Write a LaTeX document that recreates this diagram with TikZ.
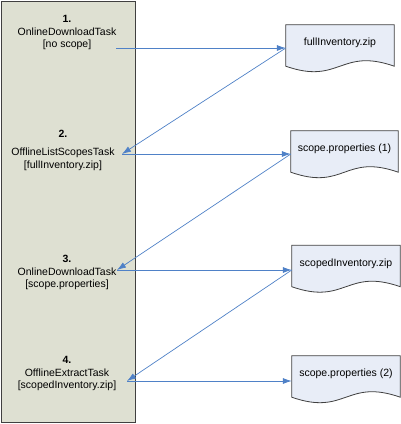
\documentclass[tikz,border=0pt]{standalone}
\usepackage{fontspec}
\setmainfont{Liberation Sans}
\usetikzlibrary{arrows.meta,backgrounds}

\definecolor{lanegray}{RGB}{222,224,210}
\definecolor{docblue}{RGB}{232,237,247}
\definecolor{flowblue}{RGB}{79,129,199}
\definecolor{edgegray}{RGB}{64,64,64}

\begin{document}
\begin{tikzpicture}[x=1pt,y=-1pt,
            lane/.style={
              draw=edgegray,
              fill=lanegray,
              line width=0.9pt,
              minimum width=134pt,
              minimum height=421pt,
              inner sep=0pt
            },
            task/.style={
              align=center,
              inner sep=0pt,
              font=\fontsize{10.5}{12.5}\selectfont
            },
            doc/.style={
              inner sep=0pt,
              minimum height=41pt,
              text depth=7pt,
              font=\fontsize{10.5}{12.5}\selectfont
            },
            docline/.style={
              draw=edgegray,
              fill=docblue,
              line width=0.8pt
            },
            flow/.style={
              draw=flowblue,
              line width=0.7pt,
              -{Latex[length=9pt,width=6pt]}
            }
            ]
            \useasboundingbox (0,0) rectangle (401,424);
            \node[lane] (lane) at (68,211.5) {};

            \node[task] at (67,32.5)
              (t1) {\textbf{1.}\\OnlineDownloadTask\\{[}no scope{]}};
            \node[task] at (63,150)
              (t2) {\textbf{2.}\\[6pt]OfflineListScopesTask\\{[}fullInventory.zip{]}};
            \node[task] at (67,272.5)
              (t3) {\textbf{3.}\\OnlineDownloadTask\\{[}scope.properties{]}};
            \node[task] at (67,373.5)
              (t4) {\textbf{4.}\\OfflineExtractTask\\{[}scopedInventory.zip{]}};

            \node[doc,minimum width=108pt] at (340,45.5)
              (full) {fullInventory.zip};
            \node[doc,minimum width=107pt] at (344.5,151.5)
              (scp1) {scope.properties (1)};
            \node[doc,minimum width=108pt] at (346,266)
              (scpinv) {scopedInventory.zip};
            \node[doc,minimum width=108pt] at (346,376.5)
              (scp2) {scope.properties (2)};

            \begin{pgfonlayer}{background}
            \foreach \d in {full,scp1,scpinv,scp2}
              \draw[docline] (\d.south west) -- (\d.north west) -- (\d.north east) -- (\d.south east)
                .. controls +(-54,-19) and +(54,19) .. (\d.south west) -- cycle;
            \end{pgfonlayer}

            \coordinate (p1) at (116,48);
            \coordinate (p2) at (122,154);
            \coordinate (p3) at (117,270);
            \coordinate (p4) at (127,381);

            \draw[flow] (p1) -- (p1 -| full.west);
            \draw[flow] (p1 -| full.west) -- (p2);
            \draw[flow] (p2) -- (p2 -| scp1.west);
            \draw[flow] (p2 -| scp1.west) -- (p3);
            \draw[flow] (p3) -- (p3 -| scpinv.west);
            \draw[flow] (p3 -| scpinv.west) -- (p4);
            \draw[flow] (p4) -- (p4 -| scp2.west);
\end{tikzpicture}
\end{document}
